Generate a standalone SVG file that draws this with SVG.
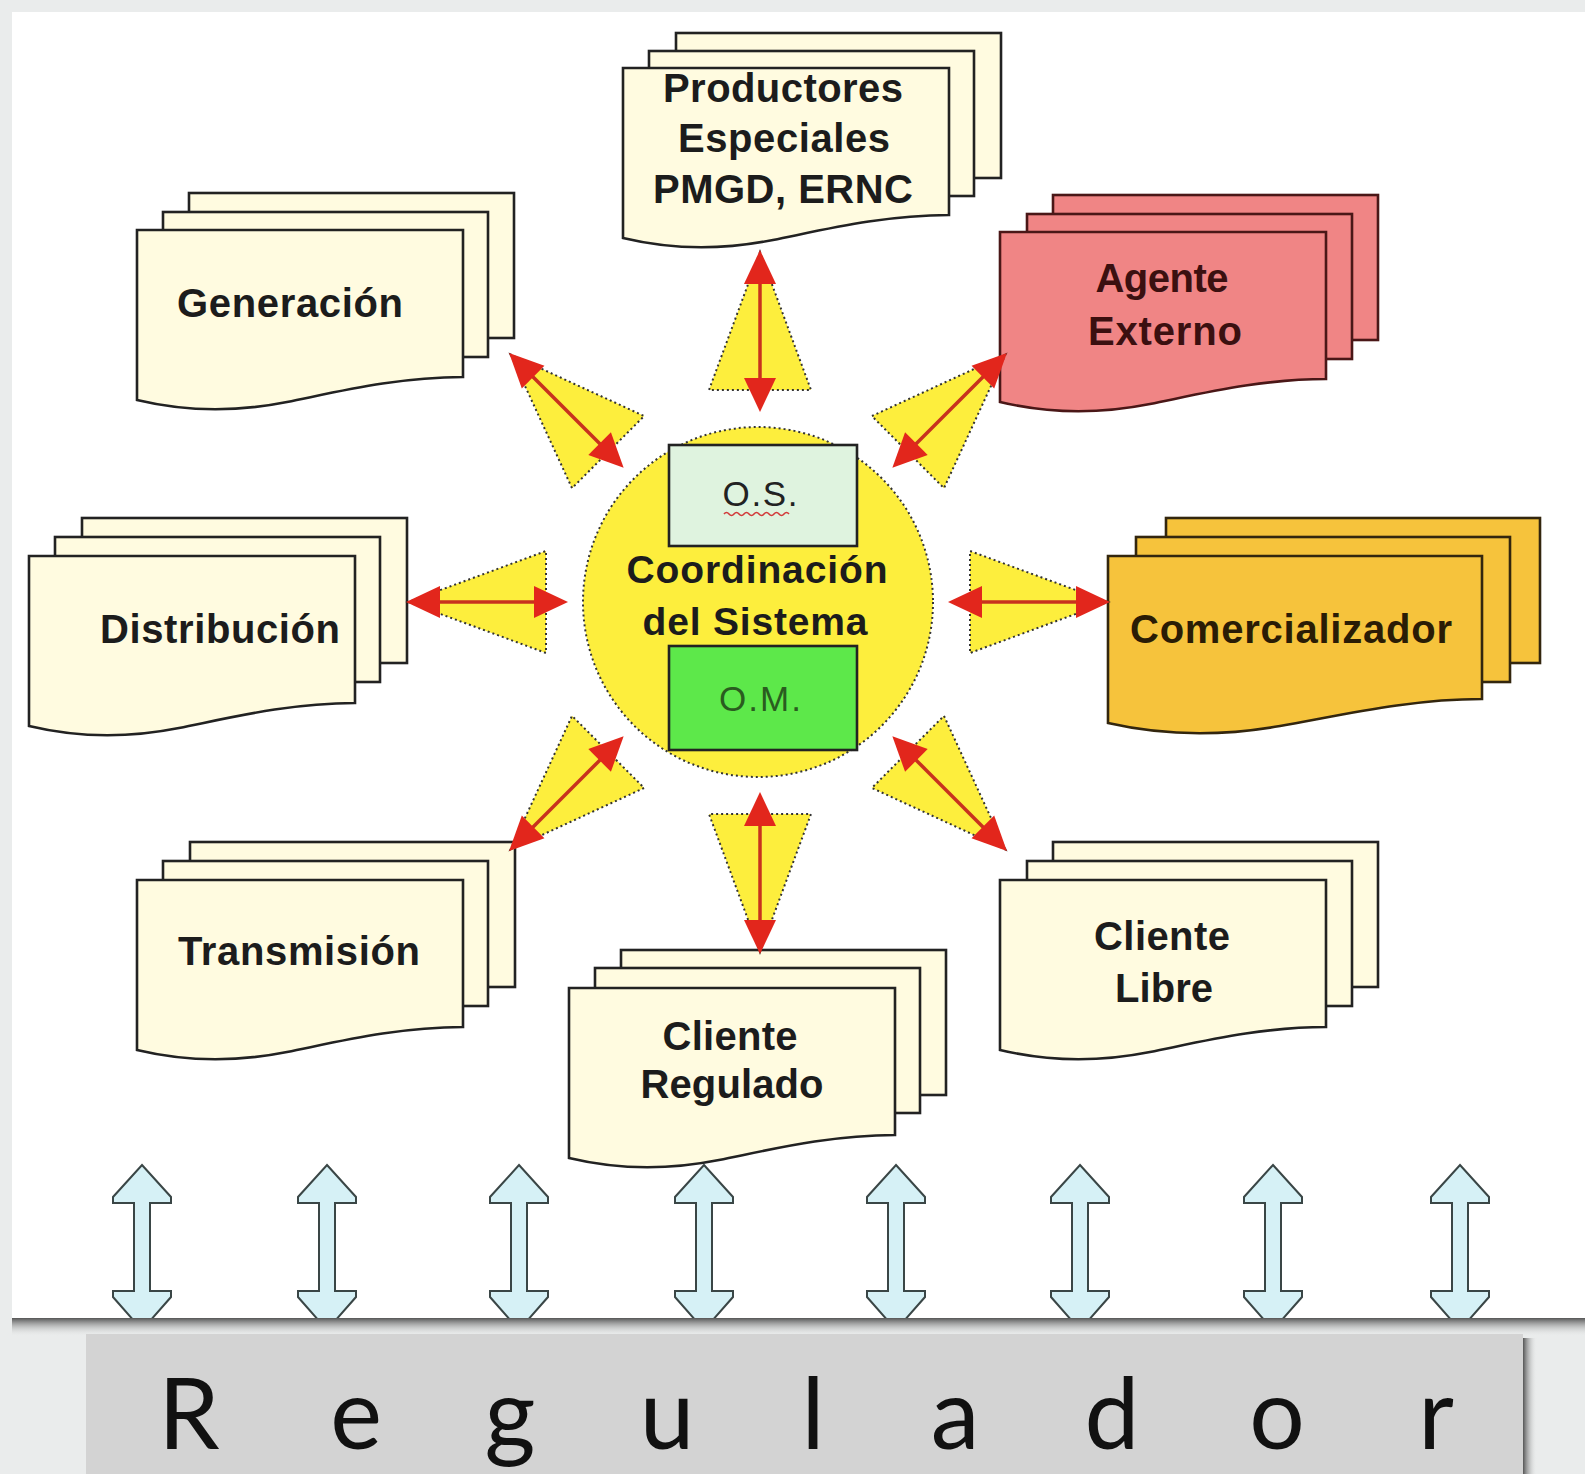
<svg xmlns="http://www.w3.org/2000/svg" xmlns:xlink="http://www.w3.org/1999/xlink" width="1585" height="1474" viewBox="0 0 1585 1474">
<style>
.cream{fill:#fffbe0;stroke:#222;stroke-width:2.6}
.coral{fill:#f08585;stroke:#4a1717;stroke-width:2.6}
.gold{fill:#f6c33c;stroke:#33260e;stroke-width:2.6}
.lbl{font-family:"Liberation Sans",Arial,sans-serif;font-weight:bold;font-size:40px;fill:#1c1c1c;stroke:none;text-anchor:middle}
.lbl-red{fill:#3b1010}
.lbl-gold{fill:#2a1c05}
.ctr{font-family:"Liberation Sans",Arial,sans-serif;font-weight:bold;font-size:39px;fill:#1c1c1c;text-anchor:middle}
.sub{font-family:"Liberation Sans",Arial,sans-serif;font-size:35px;text-anchor:middle}
.cone{fill:#fdee3d;stroke:#333;stroke-width:2;stroke-dasharray:2 3}
.shaft{stroke:#c8321e;stroke-width:3.5}
.head{fill:#e2261c}
.blue{fill:#d6f1f6;stroke:#3a4646;stroke-width:2}
.reg{font-family:Lato,"Open Sans","Liberation Sans",sans-serif;font-size:98px;fill:#111;text-anchor:middle}
</style>
<defs>
<path id="front" d="M0,0 H326 V147 C260,147 200,162 150,172 C100,182 50,182 0,170 Z"/>
<path id="frontW" d="M0,0 H374 V143 C300,143 230,160 172,170 C115,180 57,180 0,167 Z"/>
<rect id="sheet" width="325" height="145"/>
<rect id="sheetW" width="374" height="145"/>
<g id="ray">
<polygon class="cone" points="0,-350 -51,-212 51,-212"/>
<line class="shaft" x1="0" y1="-218" x2="0" y2="-322"/>
<polygon class="head" points="0,-352 -16,-318 16,-318"/>
<polygon class="head" points="0,-190 -16,-224 16,-224"/>
</g>
<path id="dbl" class="blue" d="M0,1165 L29,1197 L29,1203 L8,1203 L8,1291 L29,1291 L29,1297 L0,1330 L-29,1297 L-29,1291 L-8,1291 L-8,1203 L-29,1203 L-29,1197 Z"/>
<linearGradient id="shB" x1="0" y1="0" x2="0" y2="1"><stop offset="0" stop-color="#555"/><stop offset="1" stop-color="#e4e6e6" stop-opacity="0"/></linearGradient>
<linearGradient id="shR" x1="0" y1="0" x2="1" y2="0"><stop offset="0" stop-color="#555"/><stop offset="1" stop-color="#eef0f0" stop-opacity="0"/></linearGradient>
<clipPath id="panelClip"><rect x="12" y="12" width="1573" height="1306"/></clipPath>
</defs>

<rect width="1585" height="1474" fill="#eaecec"/>
<rect x="12" y="12" width="1573" height="1306" fill="#ffffff"/>
<rect x="12" y="1318" width="1573" height="18" fill="url(#shB)"/>
<rect x="1523" y="1338" width="14" height="136" fill="url(#shR)"/>
<rect id="regulador-bar" x="86" y="1334" width="1437" height="140" fill="#d3d3d3"/>

<g id="n-generacion" class="cream">
<use xlink:href="#sheet" x="189" y="193"/>
<use xlink:href="#sheet" x="163" y="212"/>
<use xlink:href="#front" x="137" y="230"/>
<text class="lbl" x="290" y="317" textLength="226" lengthAdjust="spacing">Generación</text>
</g>

<g id="n-productores" class="cream">
<use xlink:href="#sheet" x="676" y="33"/>
<use xlink:href="#sheet" x="649" y="51"/>
<use xlink:href="#front" x="623" y="68"/>
<text class="lbl" x="783" y="102" textLength="240" lengthAdjust="spacing">Productores</text>
<text class="lbl" x="784" y="152" textLength="212" lengthAdjust="spacing">Especiales</text>
<text class="lbl" x="783" y="203" textLength="260" lengthAdjust="spacing">PMGD, ERNC</text>
</g>

<g id="n-agente" class="coral">
<use xlink:href="#sheet" x="1053" y="195"/>
<use xlink:href="#sheet" x="1027" y="214"/>
<use xlink:href="#front" x="1000" y="232"/>
<text class="lbl lbl-red" x="1162" y="292" textLength="133" lengthAdjust="spacing">Agente</text>
<text class="lbl lbl-red" x="1165" y="345" textLength="154" lengthAdjust="spacing">Externo</text>
</g>

<g id="n-distribucion" class="cream">
<use xlink:href="#sheet" x="82" y="518"/>
<use xlink:href="#sheet" x="55" y="537"/>
<use xlink:href="#front" x="29" y="556"/>
<text class="lbl" x="220" y="643" textLength="240" lengthAdjust="spacing">Distribución</text>
</g>

<g id="n-comercializador" class="gold">
<use xlink:href="#sheetW" x="1166" y="518"/>
<use xlink:href="#sheetW" x="1136" y="537"/>
<use xlink:href="#frontW" x="1108" y="556"/>
<text class="lbl lbl-gold" x="1291" y="643" textLength="322" lengthAdjust="spacing">Comercializador</text>
</g>

<g id="n-transmision" class="cream">
<use xlink:href="#sheet" x="190" y="842"/>
<use xlink:href="#sheet" x="163" y="861"/>
<use xlink:href="#front" x="137" y="880"/>
<text class="lbl" x="299" y="965" textLength="242" lengthAdjust="spacing">Transmisión</text>
</g>

<g id="n-cliente-regulado" class="cream">
<use xlink:href="#sheet" x="621" y="950"/>
<use xlink:href="#sheet" x="595" y="968"/>
<use xlink:href="#front" x="569" y="988"/>
<text class="lbl" x="730" y="1050" textLength="135" lengthAdjust="spacing">Cliente</text>
<text class="lbl" x="732" y="1098" textLength="183" lengthAdjust="spacing">Regulado</text>
</g>

<g id="n-cliente-libre" class="cream">
<use xlink:href="#sheet" x="1053" y="842"/>
<use xlink:href="#sheet" x="1027" y="861"/>
<use xlink:href="#front" x="1000" y="880"/>
<text class="lbl" x="1162" y="950" textLength="136" lengthAdjust="spacing">Cliente</text>
<text class="lbl" x="1164" y="1002" textLength="98" lengthAdjust="spacing">Libre</text>
</g>

<g id="n-coordinacion">
<circle cx="758" cy="602" r="175" fill="#fdee3d" stroke="#333" stroke-width="2" stroke-dasharray="2 3"/>
<rect x="669" y="445" width="188" height="101" fill="#dff3df" stroke="#222" stroke-width="2.6"/>
<text class="sub" x="760" y="506" fill="#222" textLength="75" lengthAdjust="spacing">O.S.</text>
<path d="M724,514 q2.5,-3 5,0 t5,0 t5,0 t5,0 t5,0 t5,0 t5,0 t5,0 t5,0 t5,0 t5,0 t5,0 t5,0" fill="none" stroke="#d23a3a" stroke-width="1.6"/>
<text class="ctr" x="757" y="583" textLength="261" lengthAdjust="spacing">Coordinación</text>
<text class="ctr" x="755" y="635" textLength="225" lengthAdjust="spacing">del Sistema</text>
<rect x="669" y="646" width="188" height="104" fill="#5de84a" stroke="#222" stroke-width="2.6"/>
<text class="sub" x="760" y="711" fill="#2a5c1f" textLength="82" lengthAdjust="spacing">O.M.</text>
</g>

<g id="connectors">
<use xlink:href="#ray" transform="translate(760,602) rotate(0)"/>
<use xlink:href="#ray" transform="translate(758,602) rotate(45)"/>
<use xlink:href="#ray" transform="translate(758,602) rotate(90)"/>
<use xlink:href="#ray" transform="translate(758,602) rotate(135)"/>
<use xlink:href="#ray" transform="translate(760,602) rotate(180)"/>
<use xlink:href="#ray" transform="translate(758,602) rotate(-135)"/>
<use xlink:href="#ray" transform="translate(758,602) rotate(-90)"/>
<use xlink:href="#ray" transform="translate(758,602) rotate(-45)"/>
<g clip-path="url(#panelClip)">
<use xlink:href="#dbl" x="142"/>
<use xlink:href="#dbl" x="327"/>
<use xlink:href="#dbl" x="519"/>
<use xlink:href="#dbl" x="704"/>
<use xlink:href="#dbl" x="896"/>
<use xlink:href="#dbl" x="1080"/>
<use xlink:href="#dbl" x="1273"/>
<use xlink:href="#dbl" x="1460"/>
</g>
</g>

<text id="regulador" class="reg" x="189 356 510 667 813 955 1112 1277 1436" y="1449">Regulador</text>
</svg>
